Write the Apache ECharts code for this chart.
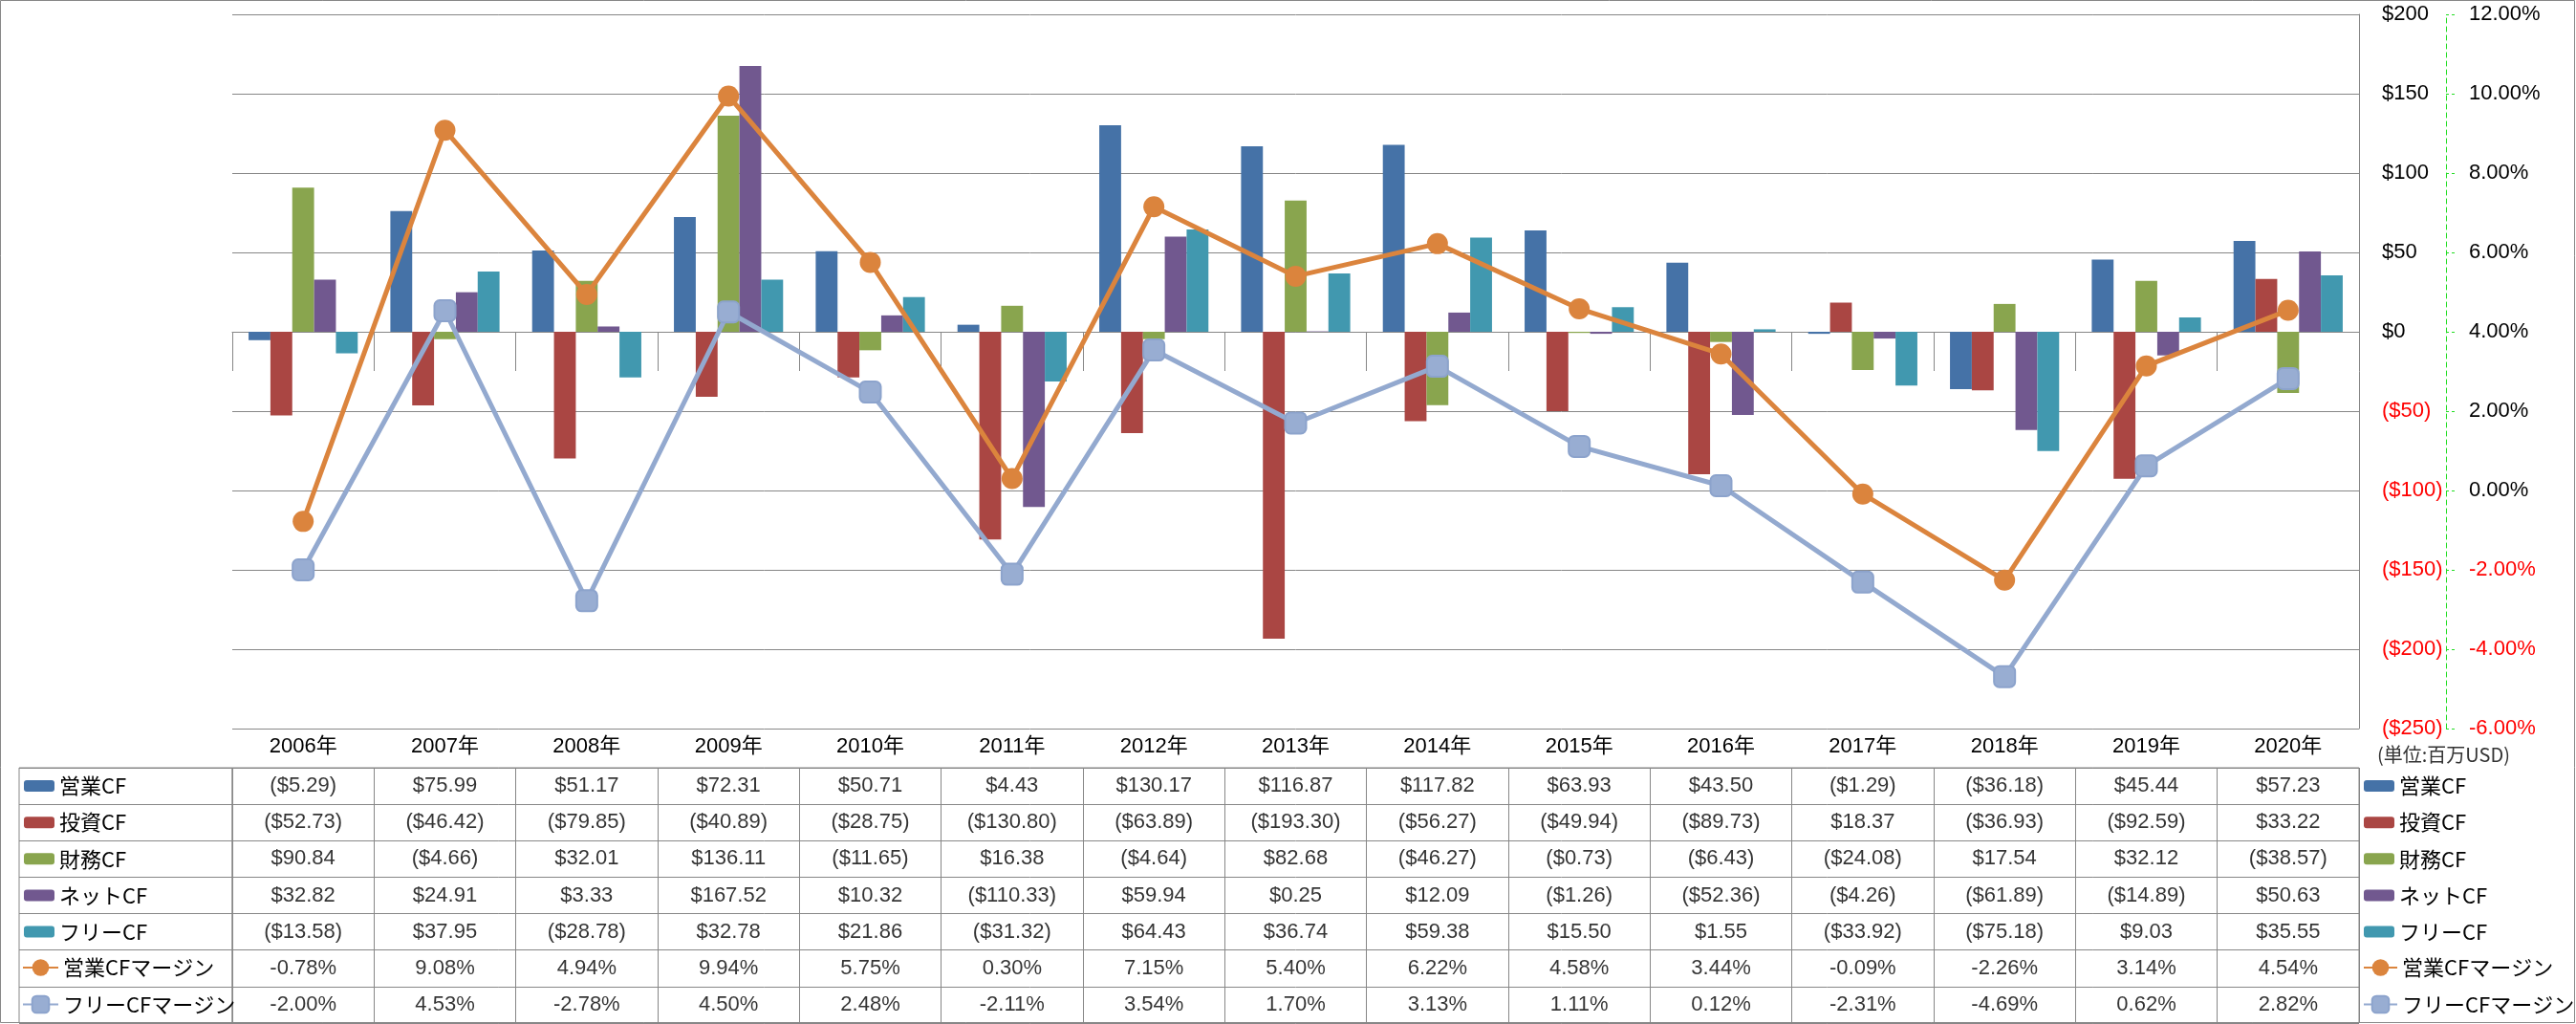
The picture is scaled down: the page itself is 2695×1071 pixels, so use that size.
<!DOCTYPE html>
<html><head><meta charset="utf-8">
<script src="https://cdn.jsdelivr.net/npm/echarts@6/dist/echarts.min.js"></script>
<style>html,body{margin:0;padding:0;background:#fff}#c{width:2695px;height:1071px}</style>
</head><body><div id="c"></div>
<script>
// ---- data ----
const years = ['2006年','2007年','2008年','2009年','2010年','2011年','2012年','2013年','2014年','2015年','2016年','2017年','2018年','2019年','2020年'];
const opCF   = [-5.29, 75.99, 51.17, 72.31, 50.71, 4.43, 130.17, 116.87, 117.82, 63.93, 43.50, -1.29, -36.18, 45.44, 57.23];
const invCF  = [-52.73, -46.42, -79.85, -40.89, -28.75, -130.80, -63.89, -193.30, -56.27, -49.94, -89.73, 18.37, -36.93, -92.59, 33.22];
const finCF  = [90.84, -4.66, 32.01, 136.11, -11.65, 16.38, -4.64, 82.68, -46.27, -0.73, -6.43, -24.08, 17.54, 32.12, -38.57];
const netCF  = [32.82, 24.91, 3.33, 167.52, 10.32, -110.33, 59.94, 0.25, 12.09, -1.26, -52.36, -4.26, -61.89, -14.89, 50.63];
const freeCF = [-13.58, 37.95, -28.78, 32.78, 21.86, -31.32, 64.43, 36.74, 59.38, 15.50, 1.55, -33.92, -75.18, 9.03, 35.55];
const opMargin   = [-0.78, 9.08, 4.94, 9.94, 5.75, 0.30, 7.15, 5.40, 6.22, 4.58, 3.44, -0.09, -2.26, 3.14, 4.54];
const freeMargin = [-2.00, 4.53, -2.78, 4.50, 2.48, -2.11, 3.54, 1.70, 3.13, 1.11, 0.12, -2.31, -4.69, 0.62, 2.82];
const barNames  = ['営業CF','投資CF','財務CF','ネットCF','フリーCF'];
const lineNames = ['営業CFマージン','フリーCFマージン'];
const unitText = '(単位:百万USD)';

// ---- styles ----
const barColors = ['#4572A7','#AA4643','#89A54E','#71588F','#4198AF'];
const lineColors = ['#DB843D','#93A9CF'];
const GRAY = '#878787';
const GREEN = '#22DD22';
const NFONT = '"Liberation Sans", "Noto Sans CJK JP", sans-serif';
const JFONT = '"Noto Sans CJK JP", sans-serif';

const barData = [opCF, invCF, finCF, netCF, freeCF];
const lineData = [opMargin, freeMargin];
const rowNames = barNames.concat(lineNames);
const tableRows = barData.concat(lineData);
const tableCells = [];
tableRows.forEach((row, r) => row.forEach((v, c) => tableCells.push([c, r, v])));

const money = v => v < 0 ? '($' + Math.abs(v).toFixed(2) + ')' : '$' + v.toFixed(2);
const pct = v => v.toFixed(2) + '%';
const negRed = v => Number(v) < 0 ? '#FF0000' : '#000000';

function legend(names, left, top, iw, ih, gap, tgap) {
  return {
    orient: 'vertical', left: left, top: top, padding: 0,
    itemWidth: iw, itemHeight: ih, itemGap: gap, itemTextGap: tgap,
    selectedMode: false, data: names,
    textStyle: { fontSize: 22, lineHeight: 24, fontFamily: JFONT, color: '#000' }
  };
}

const series = [];
barNames.forEach((n, i) => series.push({
  name: n, type: 'bar', xAxisIndex: 0, yAxisIndex: 0, data: barData[i],
  barGap: '0%', barCategoryGap: '23%', itemStyle: { color: barColors[i] }, z: 2
}));
series.push({
  name: lineNames[0], type: 'line', xAxisIndex: 0, yAxisIndex: 1, data: opMargin,
  symbol: 'circle', symbolSize: 22, lineStyle: { width: 5, color: lineColors[0] },
  itemStyle: { color: lineColors[0] }, z: 4
});
series.push({
  name: lineNames[1], type: 'line', xAxisIndex: 0, yAxisIndex: 1, data: freeMargin,
  symbol: 'roundRect', symbolSize: 22, lineStyle: { width: 5, color: lineColors[1] },
  itemStyle: { color: '#98ADD2', borderColor: '#8CA3CC', borderWidth: 2 }, z: 3
});
series.push({
  name: 'table', type: 'scatter', xAxisIndex: 1, yAxisIndex: 2, data: tableCells,
  symbolSize: 1, silent: true, itemStyle: { color: 'rgba(0,0,0,0)' },
  label: {
    show: true, position: 'inside', color: '#000', fontSize: 22, fontFamily: NFONT,
    formatter: p => p.value[1] < 5 ? money(p.value[2]) : pct(p.value[2])
  }
});

const option = {
  animation: false,
  backgroundColor: '#fff',
  title: { text: unitText, left: 2487, top: 779, padding: 0,
    textStyle: { fontSize: 20, fontWeight: 'normal', color: '#333', fontFamily: JFONT } },
  legend: [
    legend(barNames, 25, 810, 32, 12, 14.14, 5),
    legend(lineNames, 23, 1000, 37, 22, 14.5, 2),
    legend(barNames, 2473, 810, 32, 12, 14.14, 5),
    legend(lineNames, 2472, 1000, 35, 22, 14.5, 3)
  ],
  grid: [
    { left: 243, right: 227, top: 15, bottom: 309 },
    { left: 243, right: 227, top: 803, height: 267, show: true, borderColor: GRAY, borderWidth: 1 },
    { left: 20, width: 223, top: 803, height: 267, show: true, borderColor: GRAY, borderWidth: 1 }
  ],
  xAxis: [
    { type: 'category', gridIndex: 0, data: years,
      axisLine: { show: true, lineStyle: { color: GRAY } },
      axisTick: { show: true, interval: 0, length: 41, lineStyle: { color: GRAY } },
      axisLabel: { interval: 0, margin: 8, fontSize: 22, color: '#000', fontFamily: NFONT },
      splitLine: { show: false } },
    { type: 'category', gridIndex: 1, data: years,
      axisLine: { show: false }, axisTick: { show: false }, axisLabel: { show: false },
      splitLine: { show: true, interval: 0, lineStyle: { color: GRAY } } },
    { type: 'category', gridIndex: 2, data: [''],
      axisLine: { show: false }, axisTick: { show: false }, axisLabel: { show: false },
      splitLine: { show: false } }
  ],
  yAxis: [
    { type: 'value', gridIndex: 0, position: 'right', min: -250, max: 200, interval: 50,
      axisLine: { show: true, lineStyle: { color: GRAY } }, axisTick: { show: false },
      splitLine: { show: true, lineStyle: { color: GRAY } },
      axisLabel: { margin: 24, fontSize: 22, fontFamily: NFONT, color: negRed,
        formatter: v => v < 0 ? '($' + (-v) + ')' : '$' + v } },
    { type: 'value', gridIndex: 0, position: 'right', offset: 91, min: -6, max: 12, interval: 2,
      axisLine: { show: true, lineStyle: { color: GREEN, type: [5, 4] } },
      axisTick: { show: true, length: 9, inside: false, lineStyle: { color: GREEN, type: [3, 3] } },
      splitLine: { show: false },
      axisLabel: { margin: 24, fontSize: 22, fontFamily: NFONT, color: negRed,
        formatter: v => v.toFixed(2) + '%' } },
    { type: 'category', gridIndex: 1, data: rowNames, inverse: true,
      axisLine: { show: false }, axisTick: { show: false }, axisLabel: { show: false },
      splitLine: { show: true, interval: 0, lineStyle: { color: GRAY } } },
    { type: 'category', gridIndex: 2, data: rowNames, inverse: true,
      axisLine: { show: false }, axisTick: { show: false }, axisLabel: { show: false },
      splitLine: { show: true, interval: 0, lineStyle: { color: GRAY } } }
  ],
  graphic: [
    { type: 'rect', silent: true, z: -10,
      shape: { x: 0.5, y: 0.5, width: 2693, height: 1069 },
      style: { fill: 'none', stroke: GRAY, lineWidth: 1 } }
  ],
  series: series
};

const chart = echarts.init(document.getElementById('c'), null, { renderer: 'canvas' });
chart.setOption(option);
</script>
</body></html>
